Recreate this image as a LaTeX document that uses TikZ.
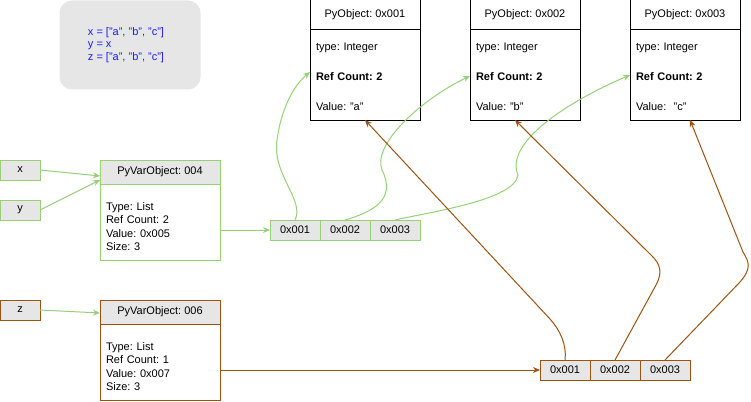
\documentclass[tikz,border=0pt]{standalone}
\usepackage{fontspec}
\setmainfont{Liberation Sans}
\usepackage{tikz}
\usetikzlibrary{arrows.meta, positioning}
\definecolor{leaf}{HTML}{97D077}
\definecolor{rust}{HTML}{9E5210}
\definecolor{cellgray}{HTML}{E6E6E6}
\definecolor{codeblue}{HTML}{1A1AFF}
\frenchspacing

\begin{document}
\begin{tikzpicture}[x=1pt, y=-1pt,
    base/.style={outer sep=0pt, inner sep=0pt, line width=1pt,
      font=\fontsize{11}{13}\selectfont},
    objhead/.style={base, draw=black, fill=white,
      minimum width=110pt, minimum height=30pt},
    objbody/.style={base, draw=black, fill=white,
      minimum width=110pt, minimum height=90pt, text width=98pt,
      align=left, font=\fontsize{11}{30}\selectfont},
    varhead/.style={base, fill=cellgray,
      minimum width=120pt, minimum height=24pt},
    varbody/.style={base, fill=white,
      minimum width=120pt, minimum height=76pt, text width=108pt,
      align=left, font=\fontsize{11}{13.3}\selectfont},
    namebox/.style={base, fill=cellgray,
      minimum width=40pt, minimum height=20pt},
    cell/.style={base, fill=cellgray,
      minimum width=50pt, minimum height=20pt},
    codebox/.style={base, draw=cellgray, fill=cellgray, rounded corners=12pt,
      minimum width=140pt, minimum height=88pt},
    codetext/.style={base, align=left, text=codeblue,
      font=\fontsize{11}{12.5}\selectfont},
    greenarrow/.style={-{Stealth[length=7pt, width=6pt]}, line width=1pt,
      color=leaf},
    brownarrow/.style={-{Stealth[length=7pt, width=6pt]}, line width=1pt,
      color=rust},
]
\useasboundingbox (0,0) rectangle (751,401);
% Nodes
\node[codebox] (code) at (130,45) {};
\node[codetext] (codelines) at (126,45)
    {x = ["a", "b", "c"]\\y = x\\z = ["a", "b", "c"]};
\node[objhead] (obj1) at (365,15) {PyObject: 0x001};
\node[objbody, below=0pt of obj1] (obj1b)
    {\rule{0pt}{12pt}type: Integer\\\textbf{Ref Count: 2}\\Value: "a"};
\node[objhead] (obj2) at (525,15) {PyObject: 0x002};
\node[objbody, below=0pt of obj2] (obj2b)
    {\rule{0pt}{12pt}type: Integer\\\textbf{Ref Count: 2}\\Value: "b"};
\node[objhead] (obj3) at (685,15) {PyObject: 0x003};
\node[objbody, below=0pt of obj3] (obj3b)
    {\rule{0pt}{12pt}type: Integer\\\textbf{Ref Count: 2}\\Value:\ \ "c"};
\node[namebox, draw=leaf] (x) at (20,170) {x};
\node[namebox, draw=leaf] (y) at (20,210) {y};
\node[namebox, draw=rust] (z) at (20,310) {z};
\node[varhead, draw=leaf] (var4) at (160,172) {PyVarObject: 004};
\node[varbody, draw=leaf, below=0pt of var4] (var4b)
    {\rule{0pt}{17pt}Type: List\\Ref Count: 2\\Value: 0x005\\Size: 3};
\node[varhead, draw=rust] (var6) at (160,312) {PyVarObject: 006};
\node[varbody, draw=rust, below=0pt of var6] (var6b)
    {\rule{0pt}{17pt}Type: List\\Ref Count: 1\\Value: 0x007\\Size: 3};
\node[cell, draw=leaf] (c11) at (295,230) {0x001};
\node[cell, draw=leaf, right=0pt of c11] (c12) {0x002};
\node[cell, draw=leaf, right=0pt of c12] (c13) {0x003};
\node[cell, draw=rust] (c21) at (565,370) {0x001};
\node[cell, draw=rust, right=0pt of c21] (c22) {0x002};
\node[cell, draw=rust, right=0pt of c22] (c23) {0x003};
% Arrows
\draw[greenarrow] (x.east) -- (var4.west |- 0,176);
\draw[greenarrow] (y.east) -- (var4.west |- 0,180);
\draw[greenarrow] (z.east) -- (var6.west |- 0,313);
\draw[greenarrow] (var4b.east |- c11.west) -- (c11.west);
\draw[brownarrow] (var6b.east |- c21.west) -- (c21.west);
\draw[greenarrow] (c11.north) .. controls (305,200) and (272,175) .. (277,140)
    .. controls (281,110) and (293,86) .. (obj1b.west |- 0,72);
\draw[greenarrow] (c12.north) .. controls (372,212) and (397,200) .. (382,170)
    .. controls (372,145) and (420,100) .. (obj2b.west |- 0,76);
\draw[greenarrow] (c13.north) .. controls (430,212) and (515,200) .. (518,175)
    .. controls (505,145) and (560,105) .. (obj3b.west |- 0,75);
\draw[brownarrow] (c21.north) .. controls (567,345) and (560,330) .. (550,319)
    -- (obj1b.south -| 365,0);
\draw[brownarrow] (c22.north) -- (656,285) .. controls (663,272) and (660,264)
    .. (652,256) -- (obj2b.south -| 515,0);
\draw[brownarrow] (c23.north) -- (740,282) .. controls (752,268) and (749,262)
    .. (743,252) -- (obj3b.south -| 690,0);
\end{tikzpicture}
\end{document}
